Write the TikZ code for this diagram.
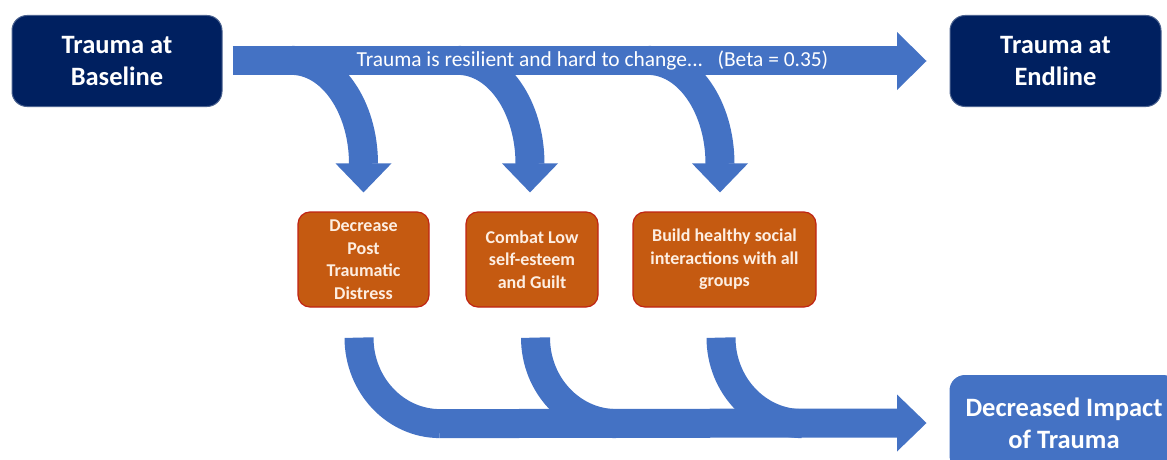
\documentclass[tikz,border=0pt]{standalone}
\usepackage{fontspec}
\setmainfont{Carlito}
\usetikzlibrary{calc}
\definecolor{navy}{RGB}{0,32,96}
\definecolor{flowblue}{RGB}{68,114,196}
\definecolor{rust}{RGB}{197,90,17}
\definecolor{rustedge}{RGB}{192,36,20}
\definecolor{cream}{RGB}{253,238,226}

\begin{document}
\begin{tikzpicture}[x=1pt, y=1pt,
  darkbox/.style={fill=navy, draw=navy!70!white, line width=1pt, rounded corners=15pt,
    minimum width=210pt, minimum height=91pt, text=white, align=center,
    font=\bfseries\fontsize{26.5}{32}\selectfont},
  actbox/.style={fill=rust, draw=rustedge, line width=1.2pt, rounded corners=12pt,
    minimum height=95pt, text=cream, align=center,
    font=\bfseries\fontsize{18}{22.5}\selectfont},
  flow/.style={draw=flowblue, line width=29pt}]
\clip (0,0) rectangle (1167,459);

% boxes
\node[darkbox] (base) at (117,398) {Trauma at\\Baseline};
\node[darkbox, minimum width=211pt] (endl) at (1055.5,398) {Trauma at\\Endline};
\node[darkbox, fill=flowblue, draw=flowblue, minimum width=228pt, minimum height=95pt] (impact) at (1064,36) {Decreased Impact\\of Trauma};
\node[actbox, minimum width=131pt] (dec) at (363.5,199.5) {Decrease\\Post\\Traumatic\\Distress};
\node[actbox, minimum width=132pt] (combat) at (532,199.5) {Combat Low\\self-esteem\\and Guilt};
\node[actbox, minimum width=183pt] (build) at (724.5,199.5) {Build healthy social\\interactions with all\\groups};

% top band, baseline to endline
\draw[flow] ($(base.east)+(10,0)$) -- ($(endl.west)+(-52,0)$);
\fill[flowblue] ($(endl.west)+(-52.5,29)$) -- ($(endl.west)+(-23,0)$) -- ($(endl.west)+(-52.5,-29)$) -- cycle;

% branches down to the three actions
\foreach \n/\dx in {dec/0, combat/-2, build/-4.5} {
  \coordinate (tip) at ($(\n.north)+(\dx,19)$);
  \draw[flow] ($(tip)+(-72,132)$) .. controls +(40,0) and +(0,57) .. ($(tip)+(0,28.5)$);
  \fill[flowblue] ($(tip)+(-28,29)$) -- (tip) -- ($(tip)+(28,29)$) -- cycle;
}

% actions join into the bottom band
\foreach \n/\dx in {dec/-4.5, combat/3.5, build/-3.5}
  \draw[flow] ($(\n.south)+(\dx,-30)$) .. controls +(0,-47.5) and +(-44.7,0) .. ($(\n.south)+(\dx+81,-116)$);
\draw[flow] ($(dec.south)+(76,-116)$) -- ($(impact.west)+(-52,0)$);
\fill[flowblue] ($(impact.west)+(-52.5,28.5)$) -- ($(impact.west)+(-23,0)$) -- ($(impact.west)+(-52.5,-28.5)$) -- cycle;

\node[text=white, font=\fontsize{21.4}{25}\selectfont] (note) at (592.5,398) {Trauma is resilient and hard to change...\ \ \ (Beta = 0.35)};
\end{tikzpicture}
\end{document}
